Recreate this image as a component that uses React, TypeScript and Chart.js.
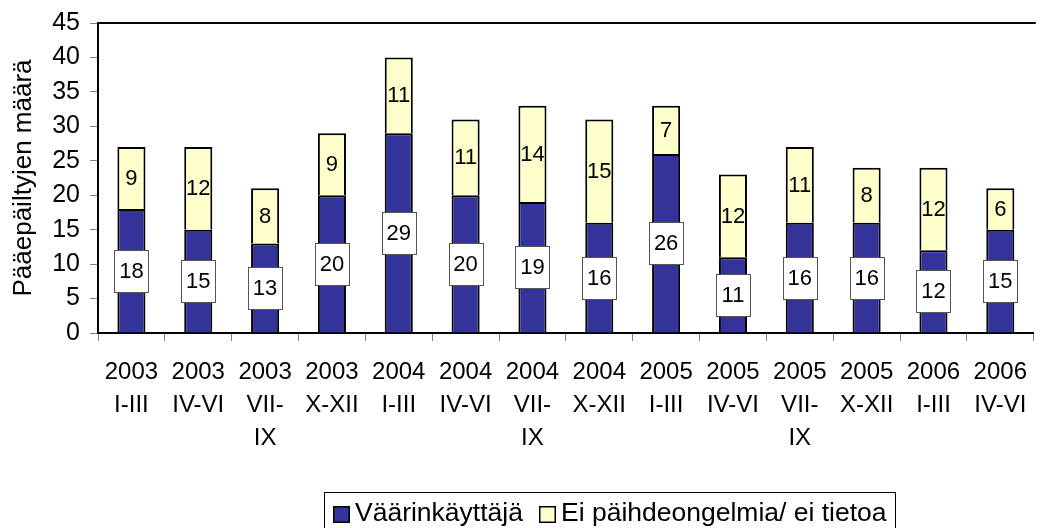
import React, { useEffect, useRef } from "react";
import { Chart, registerables } from "chart.js";

Chart.register(...registerables);

const years = ["2003", "2003", "2003", "2003", "2004", "2004", "2004", "2004", "2005", "2005", "2005", "2005", "2006", "2006"];
const periods = [["I-III"], ["IV-VI"], ["VII-", "IX"], ["X-XII"], ["I-III"], ["IV-VI"], ["VII-", "IX"], ["X-XII"], ["I-III"], ["IV-VI"], ["VII-", "IX"], ["X-XII"], ["I-III"], ["IV-VI"]];
const abusers = [18, 15, 13, 20, 29, 20, 19, 16, 26, 11, 16, 16, 12, 15];
const noProblem = [9, 12, 8, 9, 11, 11, 14, 15, 7, 12, 11, 8, 12, 6];
const seriesNames = ["Väärinkäyttäjä", "Ei päihdeongelmia/ ei tietoa"];
const yTitle = "Pääepäiltyjen määrä";
const yMax = 45;
const yStep = 5;

const BLUE = "#333399";
const YELLOW = "#FFFFCC";
const FONT = "'Liberation Sans', Arial, sans-serif";

const labelPlugin = {
  id: "segLabels",
  afterDatasetsDraw(chart: any) {
    const ctx = chart.ctx;
    ctx.save();
    chart.data.datasets.forEach((ds: any, di: number) => {
      const meta = chart.getDatasetMeta(di);
      meta.data.forEach((el: any, i: number) => {
        const p = el.getProps(["x", "y", "base"], true);
        const cy = (p.y + p.base) / 2;
        const txt = String(ds.data[i]);
        ctx.font = `22px ${FONT}`;
        ctx.textAlign = "center";
        ctx.textBaseline = "middle";
        if (di === 0) {
          const w = 34, h = 42;
          const bx = Math.round(p.x - w / 2) + 0.5;
          const by = Math.round(cy - h / 2) + 0.5;
          ctx.fillStyle = "#ffffff";
          ctx.fillRect(bx, by, w, h);
          ctx.strokeStyle = "#555555";
          ctx.lineWidth = 1;
          ctx.strokeRect(bx, by, w, h);
        }
        ctx.fillStyle = "#000000";
        ctx.fillText(txt, p.x, cy + 1);
      });
    });
    ctx.restore();
  },
};

const framePlugin = {
  id: "frame",
  afterDraw(chart: any) {
    const ctx = chart.ctx;
    const a = chart.chartArea;
    ctx.save();
    ctx.strokeStyle = "#000000";
    ctx.lineWidth = 2;
    ctx.beginPath();
    ctx.moveTo(a.left - 1, a.top);
    ctx.lineTo(a.right + 2, a.top);
    ctx.stroke();

    // legend
    const lx = 324, ly = 492, lr = 895;
    ctx.lineWidth = 1;
    ctx.strokeStyle = "#000000";
    ctx.strokeRect(lx + 0.5, ly + 0.5, lr - lx, 60);
    const items = [
      { x: 333, color: BLUE, text: seriesNames[0] },
      { x: 539, color: YELLOW, text: seriesNames[1] },
    ];
    items.forEach((it) => {
      ctx.fillStyle = it.color;
      ctx.fillRect(it.x, 506, 17, 17);
      ctx.lineWidth = 1.5;
      ctx.strokeStyle = "#000000";
      ctx.strokeRect(it.x + 0.75, 506.75, 15.5, 15.5);
      ctx.save();
      ctx.translate(it.x + 22, 521);
      ctx.scale(1.06, 1);
      ctx.font = `25px ${FONT}`;
      ctx.fillStyle = "#000000";
      ctx.textAlign = "left";
      ctx.textBaseline = "alphabetic";
      ctx.fillText(it.text, 0, 0);
      ctx.restore();
    });
    ctx.restore();
  },
};

export default function App() {
  const ref = useRef<HTMLCanvasElement | null>(null);
  useEffect(() => {
    if (!ref.current) return;
    Chart.defaults.font.family = FONT;
    const labels = years.map((y, i) => [y, ...periods[i]]);
    const chart = new Chart(ref.current, {
      type: "bar",
      data: {
        labels,
        datasets: [
          {
            label: seriesNames[0],
            data: abusers,
            backgroundColor: BLUE,
            borderColor: "#000000",
            borderWidth: 2,
            barPercentage: 0.42,
            categoryPercentage: 1,
          },
          {
            label: seriesNames[1],
            data: noProblem,
            backgroundColor: YELLOW,
            borderColor: "#000000",
            borderWidth: 2,
            barPercentage: 0.42,
            categoryPercentage: 1,
          },
        ],
      },
      options: {
        responsive: false,
        animation: false,
        layout: { padding: { top: 23, left: 0, right: 0, bottom: 0 } },
        plugins: { legend: { display: false }, tooltip: { enabled: false } },
        scales: {
          x: {
            stacked: true,
            grid: { drawOnChartArea: false, drawTicks: true, tickLength: 8, color: "#808080" },
            border: { color: "#000000", width: 2 },
            ticks: {
              color: "#000000",
              font: { size: 24, lineHeight: 1.375 },
              padding: 15,
              autoSkip: false,
              maxRotation: 0,
              minRotation: 0,
            },
            afterFit(scale: any) {
              scale.height = 195;
            },
          },
          y: {
            stacked: true,
            min: 0,
            max: yMax,
            grid: { drawOnChartArea: false, drawTicks: true, tickLength: 8, color: "#808080" },
            border: { color: "#000000", width: 2 },
            ticks: {
              stepSize: yStep,
              autoSkip: false,
              color: "#000000",
              font: { size: 25, lineHeight: 1 },
              padding: 10,
            },
            title: {
              display: true,
              text: yTitle,
              color: "#000000",
              font: { size: 26, lineHeight: 1.2 },
              padding: { top: 8, bottom: 0 },
            },
            afterFit(scale: any) {
              scale.width = 98;
            },
          },
        },
      },
      plugins: [labelPlugin, framePlugin],
    });
    return () => chart.destroy();
  }, []);
  return (
    <div style={{ position: "absolute", left: 0, top: 0, width: 1042, height: 528, background: "#fff" }}>
      <canvas ref={ref} width={1042} height={528} style={{ display: "block" }} />
    </div>
  );
}
